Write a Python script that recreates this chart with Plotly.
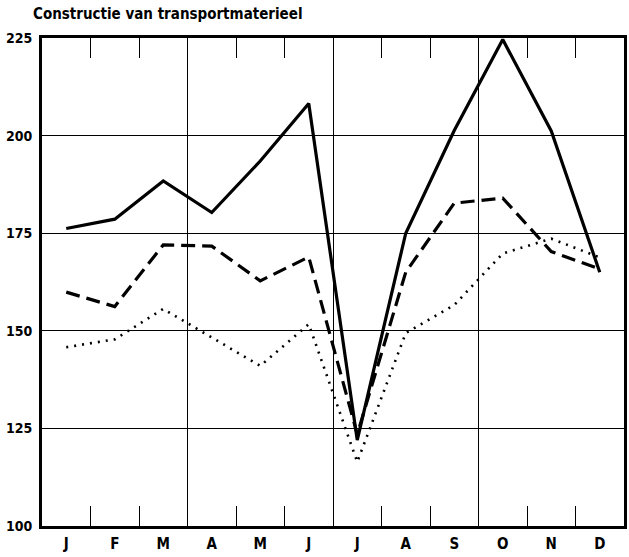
import plotly.graph_objects as go

months = ["J", "F", "M", "A", "M", "J", "J", "A", "S", "O", "N", "D"]
solid_vals = [176.2, 178.6, 188.4, 180.3, 193.5, 208.2, 122.0, 175.0, 201.3, 224.6, 201.2, 165.0]
dashed_vals = [159.9, 156.2, 172.0, 171.7, 162.8, 168.9, 123.5, 165.0, 182.7, 184.0, 170.3, 165.8]
dotted_vals = [145.8, 147.8, 155.6, 148.4, 141.0, 151.7, 116.4, 149.4, 156.6, 169.8, 173.6, 168.8]
y_ticks = [100, 125, 150, 175, 200, 225]
title_text = "Constructie van transportmaterieel"

xpos = [i + 0.5 for i in range(len(months))]
FONT = "DejaVu Sans Condensed"

fig = go.Figure()
fig.add_trace(go.Scatter(x=xpos, y=dotted_vals, mode="lines",
                         line=dict(color="black", width=2.6, dash="2px,6px"), showlegend=False))
fig.add_trace(go.Scatter(x=xpos, y=dashed_vals, mode="lines",
                         line=dict(color="black", width=3.2, dash="14px,7px"), showlegend=False))
fig.add_trace(go.Scatter(x=xpos, y=solid_vals, mode="lines",
                         line=dict(color="black", width=3.2), showlegend=False))
# invisible trace for month labels axis
fig.add_trace(go.Scatter(x=xpos, y=solid_vals, xaxis="x2", mode="lines",
                         line=dict(width=0), opacity=0, showlegend=False, hoverinfo="skip"))

fig.update_layout(
    width=629, height=557,
    margin=dict(l=42, r=5, t=38, b=31, autoexpand=False),
    paper_bgcolor="white", plot_bgcolor="white",
    font=dict(family=FONT, color="black", size=15),
    title=dict(text="<b>" + title_text + "</b>", xref="container", yref="container",
               x=33/629, xanchor="left", y=1 - 8/557, yanchor="top",
               font=dict(size=15, family=FONT)),
    xaxis=dict(range=[0, 12], tickvals=[0, 3, 6, 9, 12], showticklabels=False,
               ticks="inside", ticklen=20, tickwidth=1, tickcolor="black",
               showgrid=True, gridcolor="black", gridwidth=1,
               minor=dict(dtick=1, tick0=0, ticks="inside", ticklen=20, tickwidth=1,
                          tickcolor="black", showgrid=False),
               showline=True, linecolor="black", linewidth=3, mirror="ticks",
               zeroline=False, automargin=False),
    xaxis2=dict(range=[0, 12], overlaying="x", side="bottom", tickvals=xpos, ticktext=months,
                ticks="", showgrid=False, showline=False, zeroline=False, automargin=False,
                ticklabelstandoff=7,
                tickfont=dict(size=15, family=FONT, weight="bold")),
    yaxis=dict(range=[100, 225], tickvals=y_ticks, ticks="", showgrid=True,
               gridcolor="black", gridwidth=1, showline=True, linecolor="black",
               linewidth=3, mirror=True, zeroline=False, automargin=False,
               ticklabelstandoff=4,
               tickfont=dict(size=14, family=FONT, weight="bold")),
)

fig.write_html("out.html", post_script="document.body.style.margin='0';",
               config={"displayModeBar": False})
